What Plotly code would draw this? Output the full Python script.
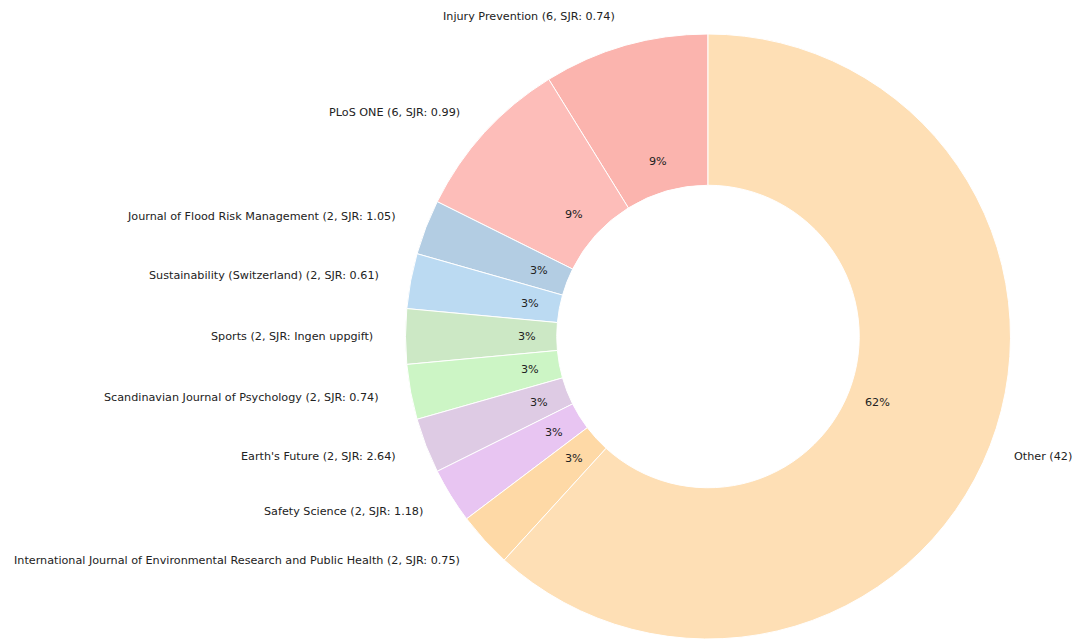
import numpy as np
import plotly.graph_objects as go

journals = [
    "Injury Prevention (6, SJR: 0.74)",
    "PLoS ONE (6, SJR: 0.99)",
    "Journal of Flood Risk Management (2, SJR: 1.05)",
    "Sustainability (Switzerland) (2, SJR: 0.61)",
    "Sports (2, SJR: Ingen uppgift)",
    "Scandinavian Journal of Psychology (2, SJR: 0.74)",
    "Earth's Future (2, SJR: 2.64)",
    "Safety Science (2, SJR: 1.18)",
    "International Journal of Environmental Research and Public Health (2, SJR: 0.75)",
    "Other (42)",
]
counts = [6, 6, 2, 2, 2, 2, 2, 2, 2, 42]
colors = ["#FBB4AE", "#FDBDB9", "#B3CDE3", "#BBDAF2", "#CCE8C5",
          "#CCF5C5", "#DECBE4", "#E8C5F2", "#FED9A6", "#FEDFB5"]

# page body has an 8px default margin; offset the layout accordingly
OFF = 8
W, H = 1081 - OFF, 639 - OFF
R = 302.5
CX = 708.0 - OFF
CY = H - R  # pie centre in figure pixels (from top)
FS = 11.2
RIGHT_LIMIT = 1074 - OFF  # keep label text inside the visible window

vals = np.array(counts, dtype=float)
total = vals.sum()

fig = go.Figure(go.Pie(
    labels=journals,
    values=counts,
    sort=False,
    direction="counterclockwise",
    rotation=-360 * vals[0] / total,
    hole=0.5,
    textinfo="none",
    marker=dict(colors=colors, line=dict(color="white", width=1)),
    domain=dict(x=[(CX - R) / W, (CX + R) / W], y=[0, 2 * R / H]),
    showlegend=False,
    hoverinfo="label+percent",
))

cum = np.concatenate([[0], np.cumsum(vals)])
theta1 = 90 + 360 * cum[:-1] / total
theta2 = 90 + 360 * cum[1:] / total
mid = np.deg2rad((theta1 + theta2) / 2)

font = dict(family="DejaVu Sans", size=FS, color="#222222")
annotations = []
for i, name in enumerate(journals):
    c, s = np.cos(mid[i]), np.sin(mid[i])
    lx = CX + 1.1 * R * c
    ly = CY - 1.1 * R * s
    right_side = c > 0
    shift = 0.0
    if right_side:
        est_w = len(name) * 0.55 * FS
        shift = min(0.0, RIGHT_LIMIT - (lx + est_w))
    annotations.append(dict(
        x=lx / W, y=1 - ly / H, xref="paper", yref="paper",
        text=name, showarrow=False, xshift=shift,
        xanchor="left" if right_side else "right", yanchor="middle",
        font=font,
    ))
    px = CX + 0.6 * R * c
    py = CY - 0.6 * R * s
    pct = 100 * vals[i] / total
    annotations.append(dict(
        x=px / W, y=1 - py / H, xref="paper", yref="paper",
        text=f"{pct:.0f}%", showarrow=False,
        xanchor="center", yanchor="middle", font=font,
    ))

fig.update_layout(
    width=W, height=H,
    margin=dict(l=0, r=0, t=0, b=0),
    paper_bgcolor="white", plot_bgcolor="white",
    annotations=annotations,
)

fig.write_html(
    "out.html",
    post_script="document.body.style.overflow='hidden';",
)
